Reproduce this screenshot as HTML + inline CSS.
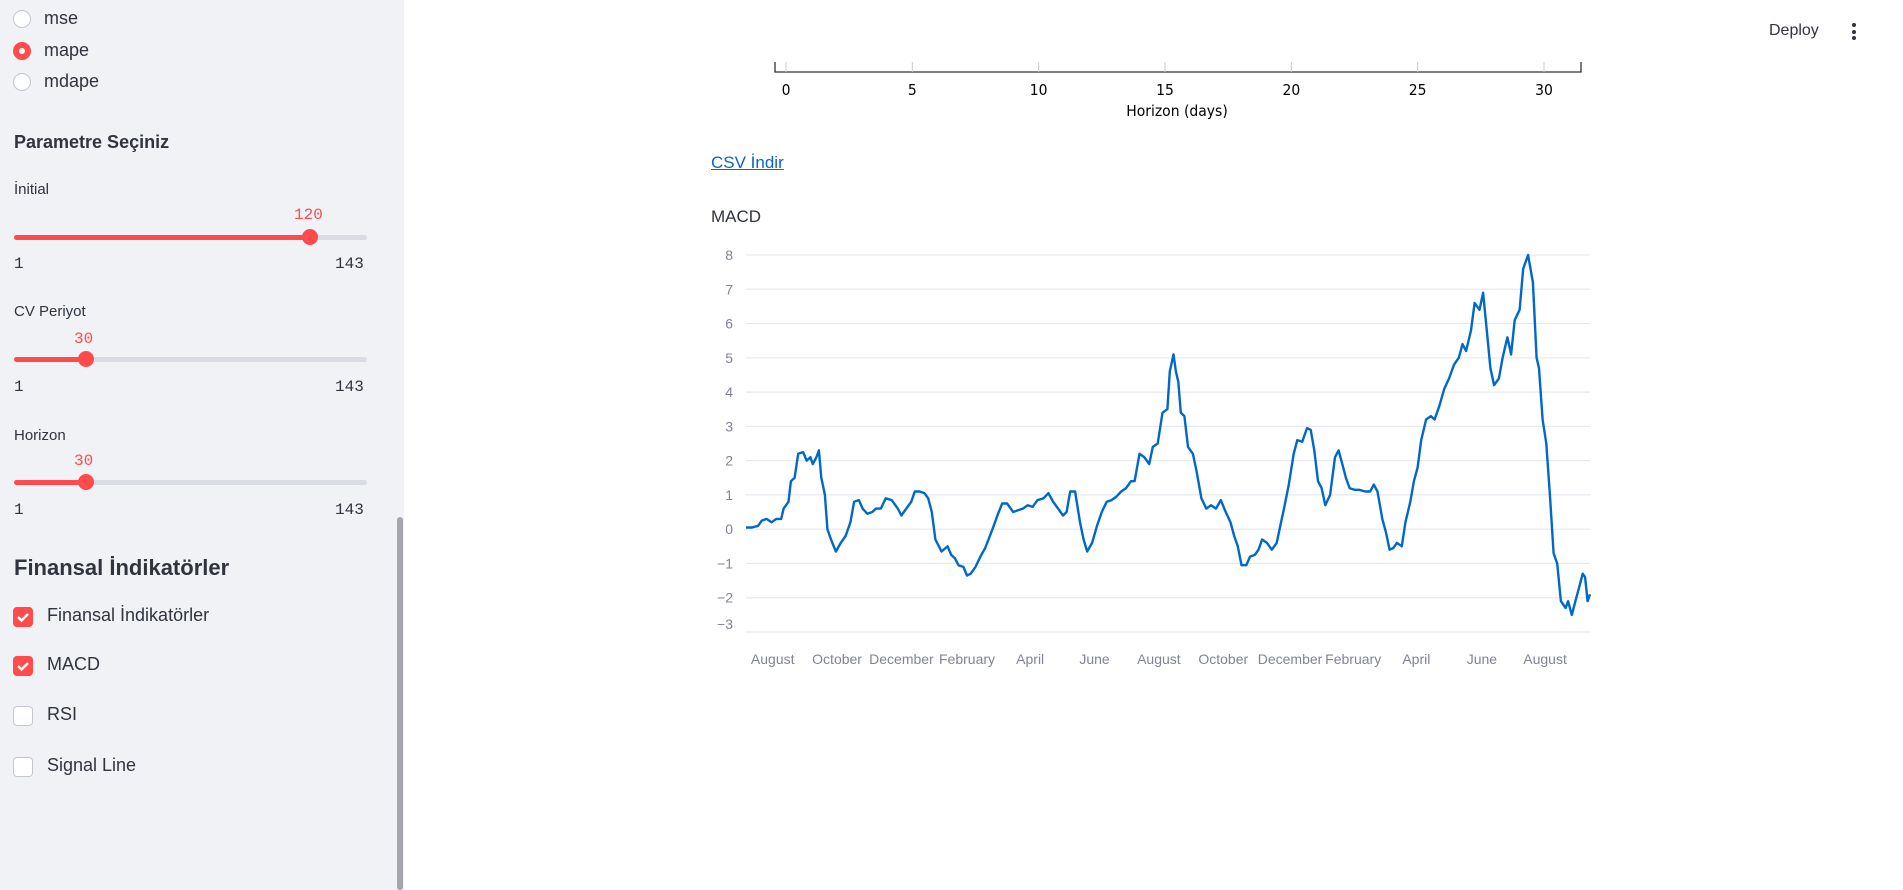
<!DOCTYPE html>
<html><head><meta charset="utf-8">
<style>
body{margin:0;width:1903px;height:890px;overflow:hidden;background:#fff;font-family:"Liberation Sans",sans-serif;color:#31333f;position:relative}
.sb{position:absolute;left:0;top:0;width:404px;height:890px;background:#f0f2f6}
.a{position:absolute;white-space:nowrap}
.radio{position:absolute;left:13px;width:18px;height:18px;border-radius:50%;border:1px solid #c3c6cf;background:#fff;box-sizing:border-box}
.radio.on{border:6px solid #ff4b4b}
.cb{position:absolute;left:13px;width:20px;height:20px;border-radius:4px;border:1px solid #c3c6cf;background:#fff;box-sizing:border-box}
.cb.on{background:#ff4b4b;border-color:#ff4b4b}
.track{position:absolute;left:14px;width:353px;height:5px;border-radius:3px;background:#d9dce3}
.fill{position:absolute;left:0;top:0;height:5px;border-radius:3px;background:#ff4b4b}
.thumb{position:absolute;top:-6px;width:16px;height:16px;border-radius:50%;background:#ff4b4b;margin-left:-8px}
.mono{font-family:"Liberation Mono",monospace;font-size:16px}
.lbl{font-size:15px}
.opt{font-size:18px}
</style></head><body>
<div class="sb">
 <div class="radio" style="top:10px"></div><div class="a opt" style="left:44px;top:8px">mse</div>
 <div class="radio on" style="top:42px"></div><div class="a opt" style="left:44px;top:40px">mape</div>
 <div class="radio" style="top:73px"></div><div class="a opt" style="left:44px;top:71px">mdape</div>
 <div class="a" style="left:14px;top:132px;font-size:18px;font-weight:bold">Parametre Seçiniz</div>

 <div class="a lbl" style="left:14px;top:181px">İnitial</div>
 <div class="a mono" style="left:294px;top:206px;color:#ff4b4b">120</div>
 <div class="track" style="top:235px"><div class="fill" style="width:296px"></div><div class="thumb" style="left:296px"></div></div>
 <div class="a mono" style="left:14px;top:255px">1</div><div class="a mono" style="left:335px;top:255px">143</div>

 <div class="a lbl" style="left:14px;top:303px">CV Periyot</div>
 <div class="a mono" style="left:74px;top:330px;color:#ff4b4b">30</div>
 <div class="track" style="top:357px"><div class="fill" style="width:72px"></div><div class="thumb" style="left:72px"></div></div>
 <div class="a mono" style="left:14px;top:378px">1</div><div class="a mono" style="left:335px;top:378px">143</div>

 <div class="a lbl" style="left:14px;top:427px">Horizon</div>
 <div class="a mono" style="left:74px;top:452px;color:#ff4b4b">30</div>
 <div class="track" style="top:480px"><div class="fill" style="width:72px"></div><div class="thumb" style="left:72px"></div></div>
 <div class="a mono" style="left:14px;top:501px">1</div><div class="a mono" style="left:335px;top:501px">143</div>

 <div class="a" style="left:14px;top:555px;font-size:22px;font-weight:bold">Finansal İndikatörler</div>
 <div class="cb on" style="top:607px"><svg width="18" height="18" style="position:absolute;left:0;top:0"><path d="M4 9l3.5 3.5L14 6" stroke="#fff" stroke-width="2.5" fill="none"/></svg></div><div class="a opt" style="left:47px;top:605px">Finansal İndikatörler</div>
 <div class="cb on" style="top:656px"><svg width="18" height="18" style="position:absolute;left:0;top:0"><path d="M4 9l3.5 3.5L14 6" stroke="#fff" stroke-width="2.5" fill="none"/></svg></div><div class="a opt" style="left:47px;top:654px">MACD</div>
 <div class="cb" style="top:706px"></div><div class="a opt" style="left:47px;top:704px">RSI</div>
 <div class="cb" style="top:757px"></div><div class="a opt" style="left:47px;top:755px">Signal Line</div>
 <div class="a" style="left:397px;top:517px;width:6px;height:373px;background:#a5a6ad;border-radius:3px"></div>
</div>

<div class="a" style="left:1769px;top:22px;font-size:16px">Deploy</div>
<div class="a" style="left:1852px;top:23px;width:4px"><div style="width:4px;height:4px;border-radius:2px;background:#31333f;margin-bottom:2.5px"></div><div style="width:4px;height:4px;border-radius:2px;background:#31333f;margin-bottom:2.5px"></div><div style="width:4px;height:4px;border-radius:2px;background:#31333f"></div></div>

<svg class="a" style="left:0;top:0" width="1903" height="140">
 <g id="hax"></g>
</svg>
<div class="a" style="left:711px;top:153px;font-size:17px;color:#0b63c8;text-decoration:underline">CSV İndir</div>
<div class="a" style="left:711px;top:207px;font-size:17px">MACD</div>

<svg class="a" style="left:0;top:0" width="1903" height="890" font-family="Liberation Sans, sans-serif">
 <g id="grid"></g><g id="xt"></g><path id="line" fill="none" stroke="#0068c9" stroke-width="2.4" stroke-linejoin="round"/>
</svg>

<script>
const horizonTicks=[0,5,10,15,20,25,30];
const yTicks=[8,7,6,5,4,3,2,1,0,-1,-2,-3];
const monthLabels=["August","October","December","February","April","June","August","October","December","February","April","June","August"];
const monthDays=[22,75,128,182,234,287,340,393,448,500,552,606,658];
const days=[0,5,10,13,17,21,25,29,31,35,37,40,43,47,50,53,55,58,60,62,65,67,70,74,78,82,86,89,93,96,100,104,107,111,115,120,125,128,132,136,139,143,147,150,153,156,161,166,169,172,175,179,182,185,189,193,197,203,207,211,215,220,224,228,232,236,240,245,249,253,257,261,264,267,271,275,278,281,285,289,293,297,301,305,309,313,317,320,324,328,332,335,339,343,347,349,352,354,356,358,361,364,368,371,375,379,383,387,391,395,399,402,405,408,412,415,419,422,425,429,433,437,440,443,447,451,454,458,462,465,468,471,474,477,481,485,488,491,494,497,501,505,510,514,517,520,524,527,530,533,536,540,543,547,550,553,556,560,564,567,571,575,579,583,587,590,593,597,600,604,607,610,613,616,620,623,627,630,633,637,640,644,648,651,653,656,659,662,665,668,671,675,677,680,683,686,689,691,693,695];
const macd=[0.05,0.05,0.1,0.25,0.3,0.2,0.3,0.3,0.6,0.8,1.4,1.5,2.2,2.25,2.0,2.1,1.9,2.1,2.3,1.5,1.0,0.0,-0.3,-0.65,-0.4,-0.2,0.2,0.8,0.85,0.6,0.45,0.5,0.6,0.6,0.9,0.85,0.6,0.4,0.6,0.8,1.1,1.1,1.05,0.9,0.5,-0.3,-0.65,-0.5,-0.75,-0.85,-1.05,-1.1,-1.35,-1.3,-1.1,-0.8,-0.55,0.0,0.4,0.75,0.75,0.5,0.55,0.6,0.7,0.65,0.85,0.9,1.05,0.8,0.6,0.4,0.5,1.1,1.1,0.2,-0.3,-0.65,-0.4,0.1,0.5,0.8,0.85,0.95,1.1,1.2,1.4,1.4,2.2,2.1,1.9,2.4,2.5,3.4,3.5,4.6,5.1,4.6,4.3,3.4,3.3,2.4,2.2,1.7,0.9,0.6,0.7,0.6,0.85,0.5,0.2,-0.2,-0.5,-1.05,-1.05,-0.8,-0.75,-0.6,-0.3,-0.4,-0.6,-0.4,0.1,0.6,1.3,2.2,2.6,2.55,2.95,2.9,2.3,1.4,1.2,0.7,1.0,2.1,2.3,1.9,1.5,1.2,1.15,1.15,1.1,1.1,1.3,1.1,0.3,-0.1,-0.6,-0.55,-0.4,-0.5,0.2,0.8,1.4,1.8,2.6,3.2,3.3,3.2,3.6,4.1,4.4,4.8,5.0,5.4,5.2,5.8,6.6,6.4,6.9,5.8,4.7,4.2,4.4,5.0,5.6,5.1,6.1,6.4,7.6,8.0,7.2,5.0,4.7,3.2,2.5,1.0,-0.7,-1.0,-2.1,-2.3,-2.1,-2.5,-2.1,-1.7,-1.3,-1.4,-2.1,-1.9];

const NS='http://www.w3.org/2000/svg';
function mk(tag,attrs,parent){const e=document.createElementNS(NS,tag);for(const k in attrs)e.setAttribute(k,attrs[k]);parent.appendChild(e);return e;}
const hx=v=>786+v*(1544-786)/30;
const hax=document.getElementById('hax');
let hl=mk('path',{d:'M775 62V72H1581V62',stroke:'#333',fill:'none','stroke-width':1.3},hax);


horizonTicks.forEach(t=>{
 const tk=mk('line',{x1:hx(t),x2:hx(t),y1:62,y2:72,stroke:'#ccc'},hax);
 
 
 const tx=mk('text',{x:hx(t),y:95,'text-anchor':'middle','font-size':15.5,fill:'#000','font-family':'DejaVu Sans Condensed, Liberation Sans Narrow, sans-serif'},hax);
 tx.textContent=t;
 
 
});
const ht=mk('text',{x:1177,y:116,'text-anchor':'middle','font-size':15.5,fill:'#000','font-family':'DejaVu Sans Condensed, Liberation Sans Narrow, sans-serif'},hax);
ht.textContent='Horizon (days)';


const X0=746,X1=1590,Y8=255,Ym3=632;
const xs=d=>X0+d*(X1-X0)/695;
const ys=v=>Y8+(8-v)*(Ym3-Y8)/11;
const grid=document.getElementById('grid');
yTicks.forEach(v=>{
 const g=mk('line',{x1:X0,x2:X1,y1:ys(v),y2:ys(v),stroke:'#e6e9ef','stroke-width':1.2},grid);
 
 
 const t=mk('text',{x:733,y:ys(v)+(v===-3?-3:5),'text-anchor':'end','font-size':14,fill:'#808495'},grid);
 t.textContent=v<0?'\u2212'+(-v):v;
 
 
});
const xt=document.getElementById('xt');
monthLabels.forEach((m,i)=>{
 const t=mk('text',{x:xs(monthDays[i]),y:664,'text-anchor':'middle','font-size':14,fill:'#808495'},xt);
 t.textContent=m;
 
 
});
const line=document.getElementById('line');
line.setAttribute('d',days.map((d,i)=>(i?'L':'M')+xs(d).toFixed(1)+' '+ys(macd[i]).toFixed(1)).join(''));


</script>
</body></html>
